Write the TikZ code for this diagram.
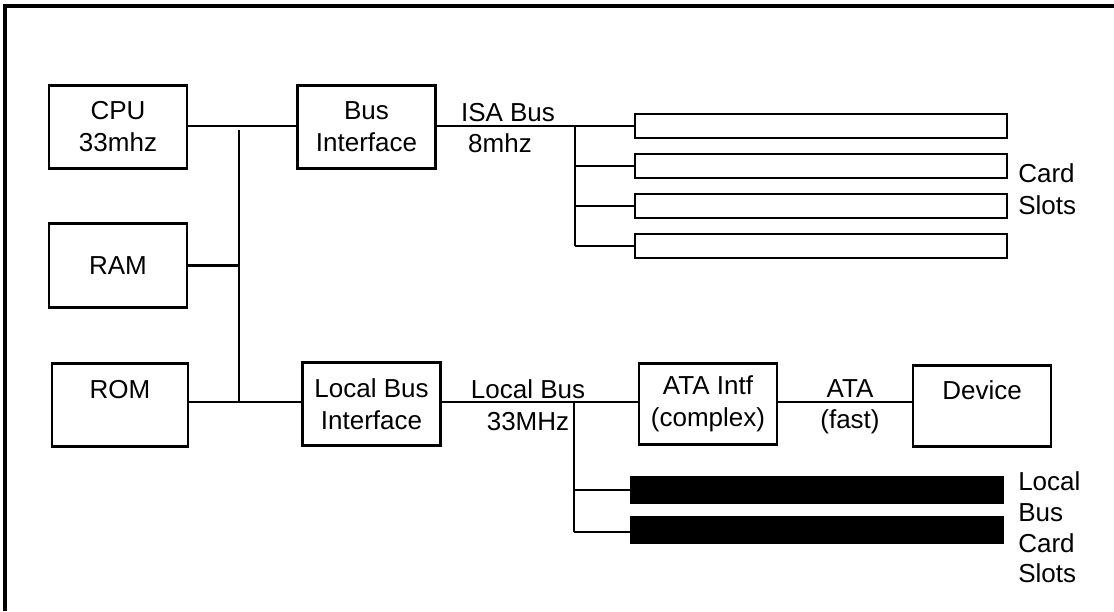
\documentclass[tikz,border=0pt]{standalone}
\usepackage{fontspec}
\setmainfont{Liberation Sans}
\begin{document}
\begin{tikzpicture}[x=0.75pt,y=-0.75pt,
  txt/.style={font=\fontsize{19.5}{24}\selectfont, align=center, inner sep=0pt},
  blk/.style={draw, line width=2.1pt, inner sep=0pt, txt},
  slot/.style={draw, line width=2.1pt, inner sep=0pt, minimum width=279pt, minimum height=18pt},
  bslot/.style={slot, fill=black},
  wire/.style={line width=2.1pt},
  frame/.style={line width=2.6pt}]
\useasboundingbox (0,0) rectangle (1114,611);
% outer frame (top and left)
\draw[frame] (3,6) -- (1114,6);
\draw[frame] (5,6) -- (5,611);

% blocks
\node[blk, minimum width=103.5pt, minimum height=62.5pt] (cpu) at (118,127) {CPU\\33mhz};
\node[blk, minimum width=103pt, minimum height=62pt] (busif) at (366.5,127) {Bus\\Interface};
\node[blk, minimum width=103.5pt, minimum height=62.5pt] (ram) at (118,265.5) {RAM};
\node[blk, minimum width=102pt, minimum height=62.5pt] (rom) at (120,405) {ROM\\\mbox{}};
\node[blk, minimum width=103pt, minimum height=62.5pt] (lbi) at (371.5,404) {Local Bus\\Interface};
\node[blk, minimum width=103.5pt, minimum height=61pt] (ata) at (708,404) {ATA Intf\\(complex)};
\node[blk, minimum width=103.5pt, minimum height=61pt] (dev) at (982,406) {Device\\\mbox{}};

% ISA slots
\node[slot] (s1) at (821,126) {};
\node[slot] (s2) at (821,166) {};
\node[slot] (s3) at (821,206) {};
\node[slot] (s4) at (821,246) {};
% local bus slots
\node[bslot, minimum height=19.5pt] (l1) at (817,490) {};
\node[bslot, minimum height=19.5pt] (l2) at (817,530) {};

% system bus
\coordinate (vtop) at (239,130);
\coordinate (vbot) at (239,402);
\draw[wire] (cpu.east |- 0,126) -- (busif.west |- 0,126);
\draw[wire] (vtop) -- (vbot);
\draw[wire] (ram.east) -- (ram.east -| vtop);
\draw[wire] (rom.east |- vbot) -- (lbi.west |- vbot);

% ISA bus
\coordinate (isatop) at (575,126);
\coordinate (isabot) at (575,246);
\draw[wire] (busif.east |- s1.west) -- (s1.west);
\draw[wire] (isatop) -- (isabot);
\draw[wire] (s2.west -| isatop) -- (s2.west);
\draw[wire] (s3.west -| isatop) -- (s3.west);
\draw[wire] (isabot) -- (s4.west);

% local bus
\coordinate (ltop) at (574,402);
\coordinate (lbot) at (574,532);
\draw[wire] (lbi.east |- ltop) -- (ata.west |- ltop);
\draw[wire] (ata.east |- ltop) -- (dev.west |- ltop);
\draw[wire] (ltop) -- (lbot);
\draw[wire] (l1.west -| ltop) -- (l1.west);
\draw[wire] (lbot) -- (l2.west |- lbot);

% labels
\node[txt] (isalbl) at (508,113) {ISA Bus};
\node[txt] (isaf) at (500,143) {8mhz};
\node[txt] (lbl) at (528,389) {Local Bus};
\node[txt] (lbf) at (528,422) {33MHz};
\node[txt] (atal) at (850,389) {ATA};
\node[txt] (ataf) at (850,422) {(fast)};
\node[txt, anchor=west, align=left] (cs) at (1018,189) {Card\\Slots};
\node[txt, anchor=west, align=left, font=\fontsize{19.5}{23}\selectfont] (lcs) at (1018,527.5) {Local\\Bus\\Card\\Slots};
\end{tikzpicture}
\end{document}
